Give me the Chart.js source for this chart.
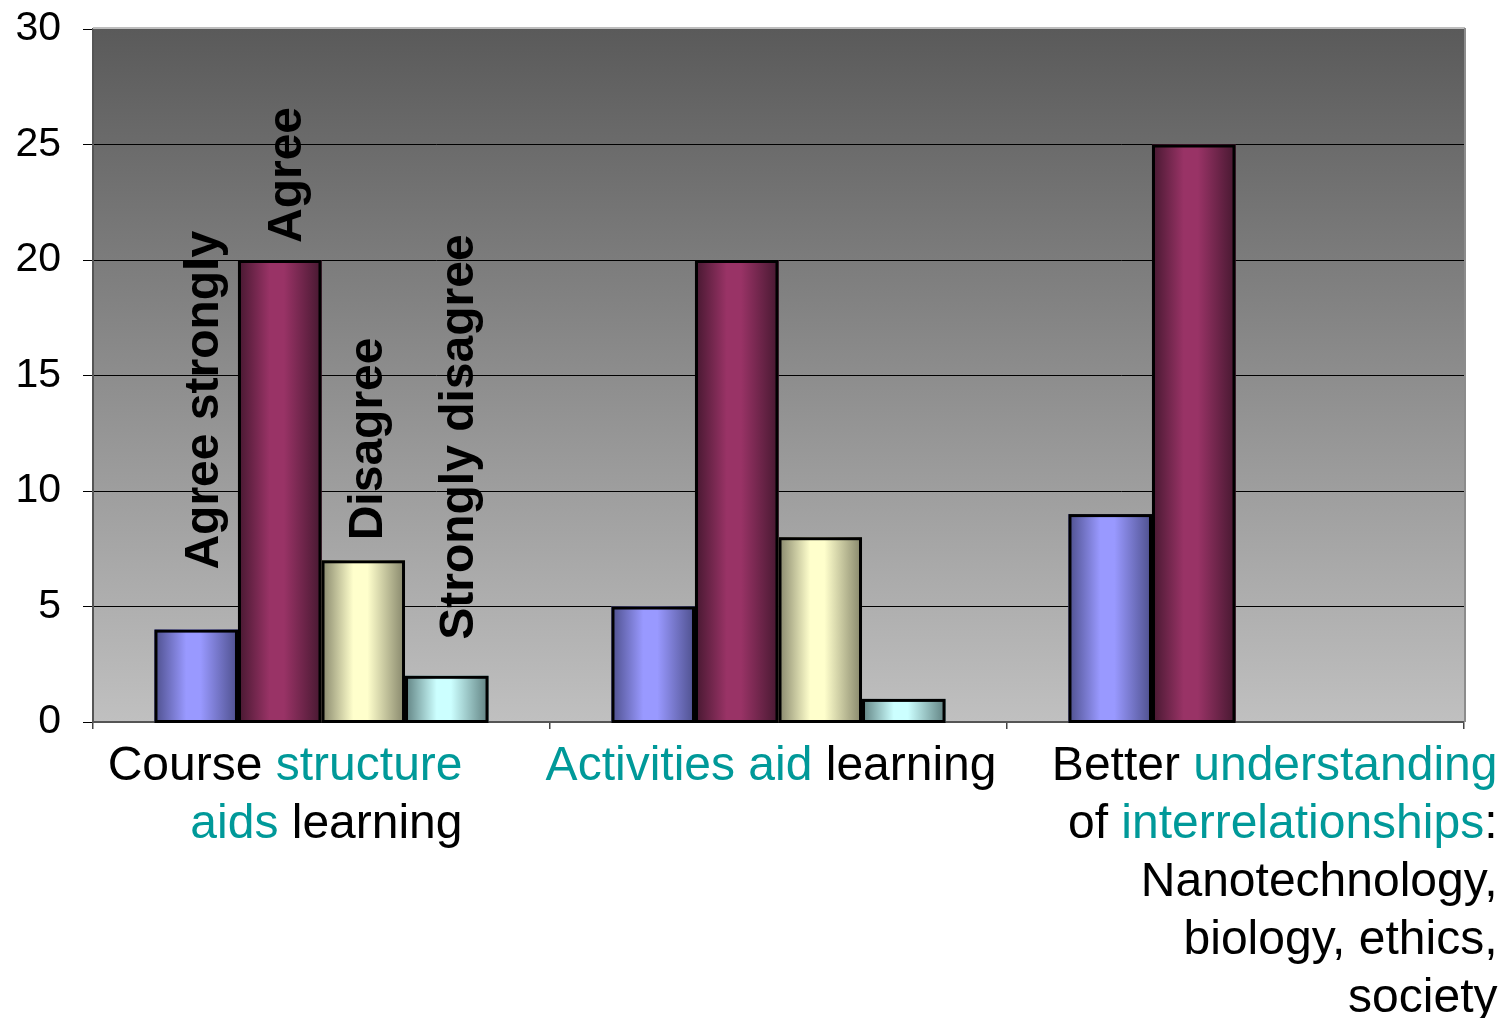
<!DOCTYPE html>
<html>
<head>
<meta charset="utf-8">
<script src="https://cdn.jsdelivr.net/npm/chart.js@4/dist/chart.umd.min.js"></script>
<style>
  html, body { margin: 0; padding: 0; background: #fff; }
  canvas { display: block; }
</style>
</head>
<body>
<canvas id="chartSurvey" width="1505" height="1018"></canvas>
<script>
// words in {braces} are the highlighted ones in the category captions
const categoryLines = [
    ['Course {structure}', '{aids} learning'],
    ['{Activities aid} learning'],
    ['Better {understanding}', 'of {interrelationships}:', 'Nanotechnology,', 'biology, ethics,', 'society']
];
const seriesNames = ['Agree strongly', 'Agree', 'Disagree', 'Strongly disagree'];
const agreeStrongly    = [4, 5, 9];
const agree            = [20, 20, 25];
const disagree         = [7, 8, null];
const stronglyDisagree = [2, 1, null];
const yTicks = [0, 5, 10, 15, 20, 25, 30];

const FONT = "'Liberation Sans', Arial, sans-serif";
const TEAL = '#009999';
// [dark edge, light middle] per series
const shades = [
    ['#4d4f8c', '#9999ff'],
    ['#461830', '#993366'],
    ['#85856a', '#ffffcc'],
    ['#5f8080', '#ccffff']
];

const plotBackground = {
    id: 'plotBackground',
    beforeDraw(chart) {
        const { ctx, chartArea: a } = chart;
        const g = ctx.createLinearGradient(0, a.top, 0, a.bottom);
        g.addColorStop(0, '#5a5a5a');
        g.addColorStop(1, '#c0c0c0');
        ctx.save();
        ctx.fillStyle = g;
        ctx.fillRect(a.left, a.top, a.right - a.left, a.bottom - a.top);
        ctx.restore();
    },
    afterDraw(chart) {
        const { ctx, chartArea: a } = chart;
        ctx.save();
        ctx.lineWidth = 2;
        ctx.strokeStyle = '#bdbdbd';
        ctx.beginPath(); ctx.moveTo(a.left, a.top - 1); ctx.lineTo(a.right + 1, a.top - 1); ctx.stroke();
        ctx.strokeStyle = '#8c8c8c';
        ctx.beginPath(); ctx.moveTo(a.right + 1, a.top - 1); ctx.lineTo(a.right + 1, a.bottom); ctx.stroke();
        ctx.restore();
    }
};

const shadedBars = {
    id: 'shadedBars',
    afterDatasetsDraw(chart) {
        const ctx = chart.ctx;
        ctx.save();
        chart.data.datasets.forEach((ds, di) => {
            const meta = chart.getDatasetMeta(di);
            meta.data.forEach((el, i) => {
                if (ds.data[i] == null) return;
                const { x, y, base, width } = el.getProps(['x', 'y', 'base', 'width'], true);
                const left = x - width / 2;
                const g = ctx.createLinearGradient(left, 0, left + width, 0);
                g.addColorStop(0, shades[di][0]);
                g.addColorStop(0.38, shades[di][1]);
                g.addColorStop(0.55, shades[di][1]);
                g.addColorStop(1, shades[di][0]);
                ctx.fillStyle = g;
                ctx.fillRect(left, y, width, base - y);
                ctx.lineWidth = 3;
                ctx.strokeStyle = '#000';
                ctx.strokeRect(left + 1.5, y + 1.5, width - 3, base - y - 1.5);
            });
        });
        ctx.restore();
    }
};

// series names written upright over the first group of bars
const seriesCaptions = {
    id: 'seriesCaptions',
    afterDatasetsDraw(chart) {
        const ctx = chart.ctx;
        const dx = [22, 21, 19, 26];
        const dy = [60, 17, 20, 36];
        ctx.save();
        ctx.font = 'bold 48px ' + FONT;
        ctx.fillStyle = '#000';
        ctx.textAlign = 'left';
        ctx.textBaseline = 'alphabetic';
        seriesNames.forEach((name, di) => {
            const el = chart.getDatasetMeta(di).data[0];
            const { x, y } = el.getProps(['x', 'y'], true);
            ctx.save();
            ctx.translate(x + dx[di], y - dy[di]);
            ctx.rotate(-Math.PI / 2);
            ctx.fillText(name, 0, 0);
            ctx.restore();
        });
        ctx.restore();
    }
};

const categoryCaptions = {
    id: 'categoryCaptions',
    afterDraw(chart) {
        const ctx = chart.ctx;
        const xs = chart.scales.x;
        const rightOffset = [141, 218, 262];
        ctx.save();
        ctx.font = '48px ' + FONT;
        ctx.textAlign = 'left';
        ctx.textBaseline = 'alphabetic';
        categoryLines.forEach((lines, ci) => {
            const right = xs.getPixelForValue(ci) + rightOffset[ci];
            lines.forEach((line, li) => {
                const parts = line.split(/(\{[^}]*\})/).filter(p => p.length);
                const segs = parts.map(p => p.startsWith('{')
                    ? { text: p.slice(1, -1), color: TEAL }
                    : { text: p, color: '#000' });
                const total = segs.reduce((w, s) => w + ctx.measureText(s.text).width, 0);
                let x = right - total;
                const y = 780 + li * 58;
                segs.forEach(s => {
                    ctx.fillStyle = s.color;
                    ctx.fillText(s.text, x, y);
                    x += ctx.measureText(s.text).width;
                });
            });
        });
        ctx.restore();
    }
};

const ctx = document.getElementById('chartSurvey').getContext('2d');
new Chart(ctx, {
    type: 'bar',
    data: {
        labels: categoryLines.map(l => l.join(' ').replace(/[{}]/g, '')),
        datasets: [
            { label: seriesNames[0], data: agreeStrongly,    backgroundColor: shades[0][1] },
            { label: seriesNames[1], data: agree,            backgroundColor: shades[1][1] },
            { label: seriesNames[2], data: disagree,         backgroundColor: shades[2][1] },
            { label: seriesNames[3], data: stronglyDisagree, backgroundColor: shades[3][1] }
        ]
    },
    options: {
        responsive: false,
        animation: false,
        devicePixelRatio: 1,
        categoryPercentage: 0.731,
        barPercentage: 1,
        layout: { padding: { top: 29, right: 41, left: 0, bottom: 0 } },
        plugins: { legend: { display: false }, tooltip: { enabled: false } },
        scales: {
            x: {
                ticks: { display: false },
                grid: { offset: true, drawOnChartArea: false, color: '#444', tickLength: 7, lineWidth: 1.5 },
                border: { color: '#555', width: 2 },
                afterFit: s => { s.height = 296; s.paddingLeft = 0; s.paddingRight = 0; }
            },
            y: {
                min: 0,
                max: 30,
                afterBuildTicks: s => { s.ticks = yTicks.map(v => ({ value: v })); },
                ticks: { color: '#000', font: { family: FONT, size: 41 }, padding: 22 },
                grid: {
                    color: c => (c.tick && c.tick.value === 30) ? 'rgba(0,0,0,0)' : '#000',
                    tickColor: '#000',
                    tickLength: 10,
                    lineWidth: 1
                },
                border: { color: '#555', width: 2 },
                afterFit: s => { s.width = 93; s.paddingTop = 0; s.paddingBottom = 0; }
            }
        }
    },
    plugins: [plotBackground, shadedBars, seriesCaptions, categoryCaptions]
});
</script>
</body>
</html>
